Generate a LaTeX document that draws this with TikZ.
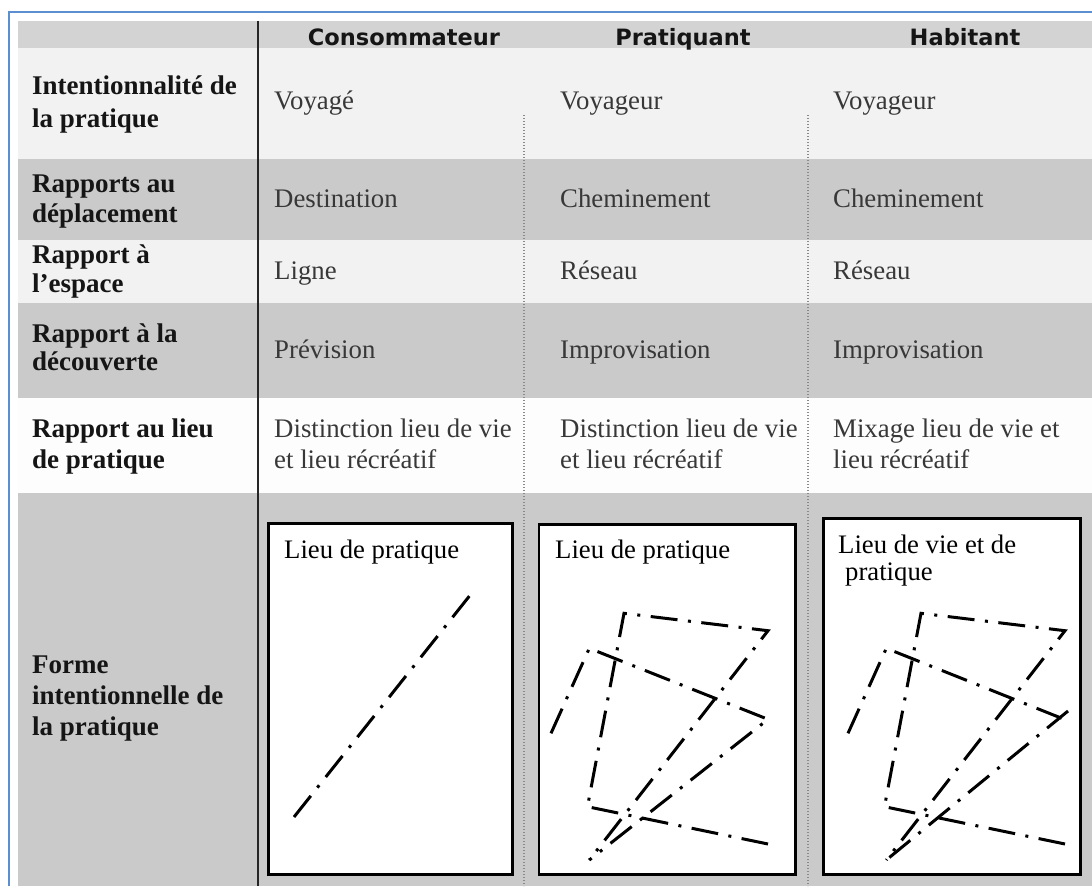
\documentclass[tikz,border=0pt]{standalone}
\usepackage{fontspec}
\setmainfont{Liberation Serif}
\newfontfamily\hdrfont{DejaVu Sans}
\definecolor{framecol}{HTML}{5B8FCF}
\definecolor{hdrgray}{HTML}{D3D3D3}
\definecolor{rowgray}{HTML}{CACACA}
\definecolor{rowlight}{HTML}{F2F2F2}
\definecolor{rowwhite}{HTML}{FDFDFD}
\definecolor{labelcol}{HTML}{151515}
\definecolor{cellcol}{HTML}{383838}
\definecolor{dotcol}{HTML}{8A8A8A}
\newcommand\tstrut{\rule{0pt}{20pt}}
\begin{document}
\begin{tikzpicture}[x=1pt,y=-1pt,
  lbl/.style={anchor=north west, align=left, inner sep=0pt, text=labelcol,
    font=\fontsize{27}{#1}\selectfont\bfseries},
  cell/.style={anchor=north west, align=left, inner sep=0pt, text=cellcol,
    font=\fontsize{26.8}{#1}\selectfont},
  boxtext/.style={anchor=north west, align=left, inner sep=0pt, text=black,
    font=\fontsize{26.7}{#1}\selectfont},
  hdr/.style={anchor=base, inner sep=0pt, text=labelcol,
    font=\hdrfont\bfseries\fontsize{22.5}{26}\selectfont},
  figbox/.style={draw=black, line width=2.5pt, fill=white, anchor=north west, inner sep=0pt},
  dashdot/.style={line width=3pt, line join=miter, dash pattern=on 27pt off 10.5pt on 3pt off 10.5pt},
  sep/.style={draw=dotcol, line width=1.2pt, dash pattern=on 1pt off 2pt}
]
\useasboundingbox (0,0) rectangle (1092,886);
\fill[white] (0,0) rectangle (1092,886);
% row bands
\fill[hdrgray] (18,21) rectangle (1092,48);
\fill[rowlight] (18,48) rectangle (1092,159);
\fill[rowgray] (18,159) rectangle (1092,240);
\fill[rowlight] (18,240) rectangle (1092,303);
\fill[rowgray] (18,303) rectangle (1092,398);
\fill[rowwhite] (18,398) rectangle (1092,493);
\fill[rowgray] (18,493) rectangle (1092,886);
% outer frame
\draw[framecol, line width=2pt] (9,886) -- (9,12) -- (1092,12);
% separators
\draw[sep] (524,115) -- (524,886);
\draw[sep] (808,115) -- (808,886);
\draw[black!85, line width=2pt] (258,21) -- (258,886);
% headers
\node[hdr] (h1) at (404,45) {Consommateur};
\node[hdr] (h2) at (683,45) {Pratiquant};
\node[hdr] (h3) at (965,45) {Habitant};
% row labels
\node[lbl=33] (l1) at (32,74) {\tstrut Intentionnalité de\\la pratique};
\node[lbl=30] (l2) at (32,172) {\tstrut Rapports au\\déplacement};
\node[lbl=29] (l3) at (32,243) {\tstrut Rapport à\\l’espace};
\node[lbl=28] (l4) at (32,322) {\tstrut Rapport à la\\découverte};
\node[lbl=31] (l5) at (32,417) {\tstrut Rapport au lieu\\de pratique};
\node[lbl=31] (l6) at (32,653) {\tstrut Forme\\intentionnelle de\\la pratique};
% cells
\node[cell=31] (c11) at (274,89) {\tstrut Voyagé};
\node[cell=31] (c12) at (560,89) {\tstrut Voyageur};
\node[cell=31] (c13) at (833,89) {\tstrut Voyageur};
\node[cell=31] (c21) at (274,187) {\tstrut Destination};
\node[cell=31] (c22) at (560,187) {\tstrut Cheminement};
\node[cell=31] (c23) at (833,187) {\tstrut Cheminement};
\node[cell=31] (c31) at (274,259) {\tstrut Ligne};
\node[cell=31] (c32) at (560,259) {\tstrut Réseau};
\node[cell=31] (c33) at (833,259) {\tstrut Réseau};
\node[cell=31] (c41) at (274,338) {\tstrut Prévision};
\node[cell=31] (c42) at (560,338) {\tstrut Improvisation};
\node[cell=31] (c43) at (833,338) {\tstrut Improvisation};
\node[cell=31] (c51) at (274,417) {\tstrut Distinction lieu de vie\\et lieu récréatif};
\node[cell=31] (c52) at (560,417) {\tstrut Distinction lieu de vie\\et lieu récréatif};
\node[cell=31] (c53) at (833,417) {\tstrut Mixage lieu de vie et\\lieu récréatif};
% figure boxes
\node[figbox, minimum width=244pt, minimum height=351pt] (b1) at (267,522) {};
\node[figbox, minimum width=256.5pt, minimum height=350pt] (b2) at (537.5,523) {};
\node[figbox, minimum width=257pt, minimum height=356pt] (b3) at (822,517) {};
\node[boxtext=30] (t1) at (284,538) {\tstrut Lieu de pratique};
\node[boxtext=30] (t2) at (555,538) {\tstrut Lieu de pratique};
\node[boxtext=27] (t3) at (838,533) {\tstrut Lieu de vie et de\\\hspace*{7pt}pratique};
% box 1 figure
\draw[dashdot] (294,817) -- (471,594);
% box 2 figure
\draw[dashdot] (768,844) -- (587.5,806.7) -- (624,613.3) -- (768,630.7) -- (589.3,860);
\draw[dashdot] (551,733.3) -- (589.3,648.3) -- (768,719.3) -- (589.3,860);
% box 3 figure
\draw[dashdot] (1065,844) -- (884.5,806.7) -- (921,613.3) -- (1065,630.7) -- (886.3,860);
\draw[dashdot] (848,733.3) -- (886.3,648.3) -- (1067,720.4);
\draw[dashdot] (1068,711) -- (886.3,860);
\end{tikzpicture}
\end{document}
